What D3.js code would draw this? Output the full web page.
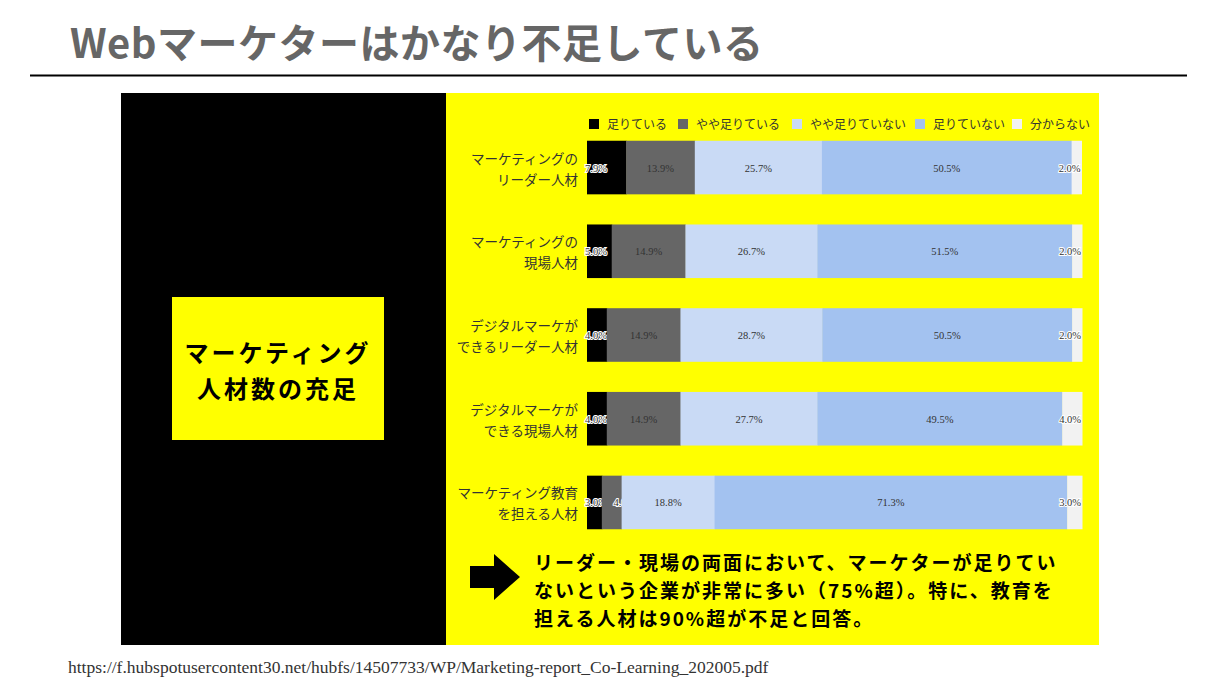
<!DOCTYPE html>
<html><head><meta charset="utf-8">
<script src="https://cdn.jsdelivr.net/npm/d3@7"></script>
<style>body{margin:0;background:#fff;}svg{display:block;}</style>
</head><body>
<svg id="c" width="1220" height="686"></svg>
<script>
const categories = [["マーケティングの","リーダー人材"],["マーケティングの","現場人材"],["デジタルマーケが","できるリーダー人材"],["デジタルマーケが","できる現場人材"],["マーケティング教育","を担える人材"]];
const seriesNames = ["足りている","やや足りている","やや足りていない","足りていない","分からない"];
const s1 = [7.9, 5.0, 4.0, 4.0, 3.0];
const s2 = [13.9, 14.9, 14.9, 14.9, 4.0];
const s3 = [25.7, 26.7, 28.7, 27.7, 18.8];
const s4 = [50.5, 51.5, 50.5, 49.5, 71.3];
const s5 = [2.0, 2.0, 2.0, 4.0, 3.0];
const colors = ["#000000","#666666","#c9daf5","#a3c2f0","#f2f2f2"];
const series = [s1,s2,s3,s4,s5];

const svg = d3.select("#c");
const JP = "'Noto Sans CJK JP','Noto Sans',sans-serif";
svg.append("text").attr("x",70).attr("y",58).attr("font-family",JP).attr("font-weight",700)
  .attr("font-size",40).attr("letter-spacing",0.5).attr("fill","#666").text("Webマーケターはかなり不足している");
svg.append("line").attr("x1",30).attr("x2",1187).attr("y1",75.5).attr("y2",75.5).attr("stroke","#000").attr("stroke-width",2);
svg.append("rect").attr("x",121).attr("y",93).attr("width",325).attr("height",552).attr("fill","#000");
svg.append("rect").attr("x",446).attr("y",93).attr("width",653).attr("height",552).attr("fill","#ffff00");
svg.append("rect").attr("x",172).attr("y",297).attr("width",212).attr("height",143).attr("fill","#ffff00");
svg.append("text").attr("x",278).attr("y",362).attr("text-anchor","middle").attr("font-family",JP).attr("font-weight",700).attr("font-size",24).attr("letter-spacing",3).text("マーケティング");
svg.append("text").attr("x",278).attr("y",398).attr("text-anchor","middle").attr("font-family",JP).attr("font-weight",700).attr("font-size",24).attr("letter-spacing",3).text("人材数の充足");

const x = d3.scaleLinear().domain([0,100.1]).range([587,1082]);
const y = d3.scaleBand().domain(d3.range(categories.length)).range([124,546]).paddingInner(0.36).paddingOuter(0.2);

// legend
const legX = [589,678,792,915,1012];
seriesNames.forEach((n,i)=>{
  svg.append("rect").attr("x",legX[i]).attr("y",119).attr("width",10).attr("height",10).attr("fill",colors[i]);
  svg.append("text").attr("x",legX[i]+18).attr("y",129).attr("font-family",JP).attr("font-size",12).attr("fill","#333").text(n);
});

categories.forEach((c,r)=>{
  let acc = 0;
  const yy = y(r), h = y.bandwidth();
  series.forEach((s,k)=>{
    const v = s[r];
    svg.append("rect").attr("x",x(acc)).attr("y",yy).attr("width",x(acc+v)-x(acc)+0.5).attr("height",h).attr("fill",colors[k]);
    let tx = x(acc+v/2), anchor = "middle";
    if (k===4) { tx = x(acc+v) - 1; anchor = "end"; }
    if (k===0) { tx = x(acc) - 2; anchor = "start"; }
    if (k===1 && v < 6) { tx = x(acc+v) - 8; anchor = "start"; }
    const t = svg.append("text").attr("x",tx).attr("y",yy+h/2+4).attr("text-anchor",anchor)
      .attr("font-family","'Liberation Serif',serif").attr("font-size",10.5).attr("fill","#333").text(v.toFixed(1)+"%");
    if (k===0 || k===4 || (k===1 && v<6)) t.attr("stroke","#fff").attr("stroke-width",2).attr("paint-order","stroke");
    acc += v;
  });
  svg.append("text").attr("x",578).attr("y",yy+h/2-4).attr("text-anchor","end").attr("font-family",JP).attr("font-size",13.5).attr("fill","#333").text(c[0]);
  svg.append("text").attr("x",578).attr("y",yy+h/2+17).attr("text-anchor","end").attr("font-family",JP).attr("font-size",13.5).attr("fill","#333").text(c[1]);
});

// arrow
svg.append("path").attr("d","M470,566 L494,566 L494,554 L520,577 L494,600 L494,588 L470,588 Z").attr("fill","#000");
const lines = ["リーダー・現場の両面において、マーケターが足りてい","ないという企業が非常に多い（75%超）。特に、教育を","担える人材は90%超が不足と回答。"];
lines.forEach((l,i)=>svg.append("text").attr("x",534).attr("y",570+i*28).attr("font-family",JP).attr("font-weight",700).attr("font-size",19).attr("letter-spacing",2).text(l));
svg.append("text").attr("x",68).attr("y",673).attr("font-family","'Liberation Serif',serif").attr("font-size",17.5).attr("fill","#333").text("https://f.hubspotusercontent30.net/hubfs/14507733/WP/Marketing-report_Co-Learning_202005.pdf");
</script>
</body></html>
